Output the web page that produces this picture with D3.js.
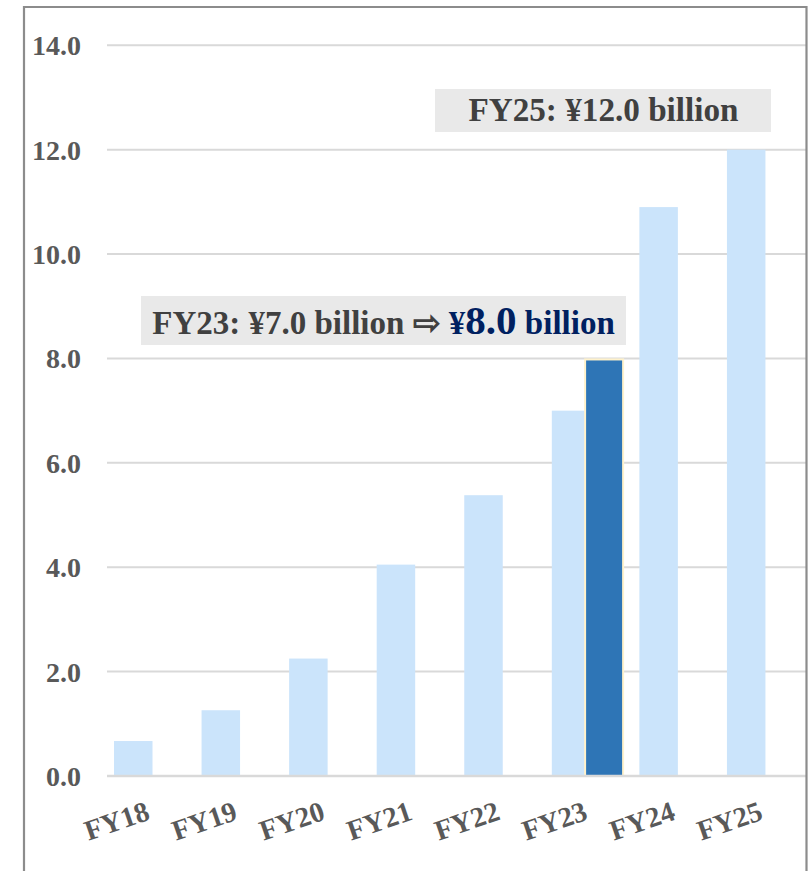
<!DOCTYPE html>
<html>
<head>
<meta charset="utf-8">
<script src="https://cdn.jsdelivr.net/npm/d3@7"></script>
<style>
  html, body { margin: 0; padding: 0; background: #ffffff; }
  svg { display: block; }
  text { font-family: "Times New Roman", "Liberation Serif", serif; font-weight: bold; }
</style>
</head>
<body>
<svg id="chart" width="812" height="871"></svg>
<script>
// Fiscal years on the category axis
const categories = ["FY18", "FY19", "FY20", "FY21", "FY22", "FY23", "FY24", "FY25"];
// Original plan (¥ billion)
const planValues = [0.67, 1.26, 2.25, 4.05, 5.38, 7.0, 10.9, 12.0];
// Revised target (¥ billion), only set for FY23
const revisedValues = [null, null, null, null, null, 8.0, null, null];
// Value axis ticks
const yTicks = [0, 2, 4, 6, 8, 10, 12, 14];

const svg = d3.select("#chart");
const W = 812, H = 871;

const plot = { left: 106, right: 806.5, top: 45.3, bottom: 776 };

const x = d3.scaleBand().domain(categories).range([plot.left, plot.right]).paddingInner(0).paddingOuter(0);
const y = d3.scaleLinear().domain([0, 14]).range([plot.bottom, plot.top]);

// Two series side by side inside each category, slightly overlapping
const seriesNames = ["plan", "revised"];
const sub = d3.scaleBand().domain(seriesNames).range([8, 8 + 2 * 31.3]);
const barW = 38.5;

// Horizontal gridlines
svg.append("g")
  .selectAll("line")
  .data(yTicks.filter(t => t > 0))
  .join("line")
  .attr("x1", plot.left + 1)
  .attr("x2", plot.right)
  .attr("y1", d => y(d))
  .attr("y2", d => y(d))
  .attr("stroke", "#d9d9d9")
  .attr("stroke-width", 2);

// Bars: original plan
svg.append("g")
  .selectAll("rect")
  .data(categories.map((c, i) => ({ c, v: planValues[i] })))
  .join("rect")
  .attr("x", d => x(d.c) + sub("plan"))
  .attr("width", barW)
  .attr("y", d => y(d.v))
  .attr("height", d => y(0) - y(d.v))
  .attr("fill", "#cbe4fb");

// Bars: revised target
svg.append("g")
  .selectAll("rect")
  .data(categories.map((c, i) => ({ c, v: revisedValues[i] })).filter(d => d.v != null))
  .join("rect")
  .attr("x", d => x(d.c) + sub("revised") + 2)
  .attr("width", barW - 0.5)
  .attr("y", d => y(d.v) + 1)
  .attr("height", d => y(0) - y(d.v) - 1)
  .attr("fill", "#2e75b6")
  .attr("stroke", "#fff2cc")
  .attr("stroke-width", 2);

// Category axis line
svg.append("line")
  .attr("x1", plot.left + 1)
  .attr("x2", plot.right)
  .attr("y1", y(0))
  .attr("y2", y(0))
  .attr("stroke", "#d9d9d9")
  .attr("stroke-width", 2.5);

// Value axis labels
const yAxis = d3.axisLeft(y).tickValues(yTicks).tickFormat(d3.format(".1f")).tickSize(0).tickPadding(0);
const yg = svg.append("g").attr("transform", "translate(81,0)").call(yAxis);
yg.select(".domain").remove();
yg.selectAll("text")
  .attr("font-size", 28)
  .attr("font-family", "'Times New Roman', 'Liberation Serif', serif")
  .attr("font-weight", "bold")
  .attr("fill", "#595959")
  .attr("dy", "0.34em");

// Category labels, rotated
const xAxis = d3.axisBottom(x).tickSize(0).tickPadding(0);
const xg = svg.append("g").attr("transform", `translate(0,${y(0)})`).call(xAxis);
xg.select(".domain").remove();
xg.selectAll(".tick text")
  .attr("font-size", 28.5)
  .attr("font-family", "'Times New Roman', 'Liberation Serif', serif")
  .attr("font-weight", "bold")
  .attr("fill", "#595959")
  .attr("text-anchor", "end")
  .attr("dy", 0)
  .attr("y", 0)
  .attr("transform", "translate(1.5,43) rotate(-19)");

// Annotation: FY25 target
const a25 = svg.append("g");
a25.append("rect")
  .attr("x", 435).attr("y", 89).attr("width", 336).attr("height", 43)
  .attr("fill", "#e9e9e9");
a25.append("text")
  .attr("x", 603.5).attr("y", 121)
  .attr("text-anchor", "middle")
  .attr("font-size", 33.2)
  .attr("fill", "#404040")
  .text(`FY25: ¥${d3.format(".1f")(planValues[7])} billion`);

// Annotation: FY23 revision
const a23 = svg.append("g");
a23.append("rect")
  .attr("x", 141).attr("y", 296).attr("width", 485).attr("height", 49)
  .attr("fill", "#e9e9e9");
const t23 = a23.append("text")
  .attr("x", 383.5).attr("y", 334)
  .attr("text-anchor", "middle")
  .attr("font-size", 33)
  .attr("fill", "#404040");
t23.append("tspan").text(`FY23: ¥${d3.format(".1f")(planValues[5])} billion ⇨ `);
t23.append("tspan").attr("fill", "#002060").text("¥");
t23.append("tspan").attr("fill", "#002060").attr("font-size", 41).text(d3.format(".1f")(revisedValues[5]));
t23.append("tspan").attr("fill", "#002060").text(" billion");

// Chart frame
svg.append("path")
  .attr("d", `M24,${H + 2} L24,7 L806.5,7 L806.5,${H + 2}`)
  .attr("fill", "none")
  .attr("stroke", "#8c8c8c")
  .attr("stroke-width", 2.2);
</script>
</body>
</html>
